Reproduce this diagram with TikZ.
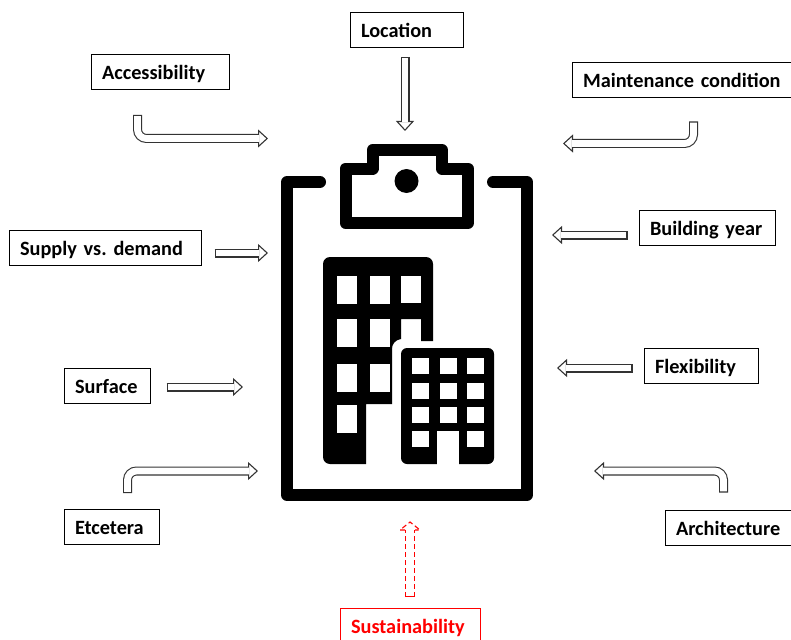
\documentclass[tikz,border=0pt]{standalone}
\usepackage{fontspec}
\setmainfont{Carlito}[WordSpace=0.8]
\usepackage{xcolor}
\usetikzlibrary{arrows.meta,calc,positioning}

\begin{document}
\frenchspacing
\begin{tikzpicture}[x=1pt,y=-1pt,
    labelbox/.style={draw, line width=1pt, inner xsep=11pt, inner ysep=0pt, text height=25pt, text depth=10pt, align=left, font=\fontsize{20.3}{24}\selectfont\bfseries},
    hollowarrow/.style={draw=black!80, line width=9pt, rounded corners=9pt, -{Triangle[open,fill=white,length=10pt,width=18pt,line width=1.1pt]},
        postaction={draw=white, line width=6.8pt, -, shorten >=9pt, shorten <=1.1pt}},
    redarrow/.style={draw=red, line width=10pt, dash pattern=on 5pt off 3pt,
        postaction={draw=white, solid, line width=8pt, shorten <=1.2pt}},
    boardline/.style={line width=12pt, line join=round, line cap=round},
    windowpane/.style={fill=white, draw=none}]
\useasboundingbox (0,0) rectangle (791,639);

% Labels around the clipboard
\node[labelbox, text width=91pt] (location) at (406.5,30) {Location};
\node[labelbox, text width=116pt] (accessibility) at (160,72) {Accessibility};
\node[labelbox, text width=206pt] (maintenance) at (686,80.5) {Maintenance condition};
\node[labelbox, text width=170pt] (supply) at (105,248) {Supply vs. demand};
\node[labelbox, text width=114pt] (buildingyear) at (707,228) {Building year};
\node[labelbox, text width=64pt] (surface) at (107,386) {Surface};
\node[labelbox, text width=92pt] (flexibility) at (701,365.5) {Flexibility};
\node[labelbox, text width=73pt] (etcetera) at (111.5,527) {Etcetera};
\node[labelbox, text width=130pt] (architecture) at (741,527.5) {Architecture};
\node[labelbox, red, text width=118pt] (sustainability) at (410,626) {Sustainability};

% Arrow ends near the clipboard
\coordinate (location-in) at (405,131);
\coordinate (accessibility-in) at (268,138.5);
\coordinate (maintenance-in) at (563,143.5);
\coordinate (supply-in) at (268,253);
\coordinate (buildingyear-in) at (552,235);
\coordinate (surface-in) at (243,387);
\coordinate (flexibility-in) at (557,368);
\coordinate (etcetera-in) at (258,471);
\coordinate (architecture-in) at (594,471);
\coordinate (sustainability-in) at (410,522);

\draw[hollowarrow] ([shift={(-1.5,9)}]location.south) -- (location-in);
\draw[hollowarrow] ([shift={(-22.5,25)}]accessibility.south) |- (accessibility-in);
\draw[hollowarrow] ([shift={(7.5,23)}]maintenance.south) |- (maintenance-in);
\draw[hollowarrow] ([shift={(13,5)}]supply.east) -- (supply-in);
\draw[hollowarrow] ([shift={(-11,7)}]buildingyear.west) -- (buildingyear-in);
\draw[hollowarrow] ([shift={(16,1)}]surface.east) -- (surface-in);
\draw[hollowarrow] ([shift={(-11,2.5)}]flexibility.west) -- (flexibility-in);
\draw[hollowarrow] ([shift={(16,-16)}]etcetera.north) |- (etcetera-in);
\draw[hollowarrow] ([shift={(-17.5,-17)}]architecture.north) |- (architecture-in);

\draw[redarrow] ([yshift=11pt]sustainability.north) -- ($(sustainability-in)+(0,8)$);
\draw[red, line width=1.1pt, dash pattern=on 5pt off 3pt] ($(sustainability-in)+(-5,8)$) -- ($(sustainability-in)+(-10,8)$) -- (sustainability-in) -- ($(sustainability-in)+(10,8)$) -- ($(sustainability-in)+(5,8)$);

% Clipboard
\draw[boardline] (320,182) -- (287,182) -- (287,495) -- (527,495) -- (527,182) -- (493,182);
\draw[boardline] (345.5,223) -- (345.5,168.5) -- (372.5,168.5) -- (372.5,150) -- (442,150) -- (442,168.5) -- (468,168.5) -- (468,223) -- cycle;
\fill (406.5,181) circle (12);

% Tall building
\fill[rounded corners=7pt] (323,464) -- (323,257) -- (433,257) -- (433,300) [sharp corners] -- (433,341) -- (421,341) -- (421,319) -- (401,319) -- (401,339) .. controls (395,340) and (392,344) .. (392,349) -- (392,404) -- (366,404) -- (366,464) [rounded corners=7pt] -- cycle;
\foreach \x in {337,370}
    \foreach \y in {276,319,364}
        \fill[windowpane] (\x,\y) rectangle ++(20,28);
\fill[windowpane] (401,276) rectangle ++(20,27);
\fill[windowpane] (337,405) rectangle ++(20,28);

% Small building
\fill[rounded corners=6pt] (401,464) -- (401,348) -- (494,348) -- (494,464) -- cycle;
\foreach \x in {412,439.5,467}
    \foreach \y in {358,383,407}
        \fill[windowpane] (\x,\y) rectangle ++(17,16);
\fill[windowpane] (412,431) rectangle ++(17,16);
\fill[windowpane] (467,431) rectangle ++(17,16);
\fill[windowpane] (437,431) rectangle (459,465);
\end{tikzpicture}
\end{document}
